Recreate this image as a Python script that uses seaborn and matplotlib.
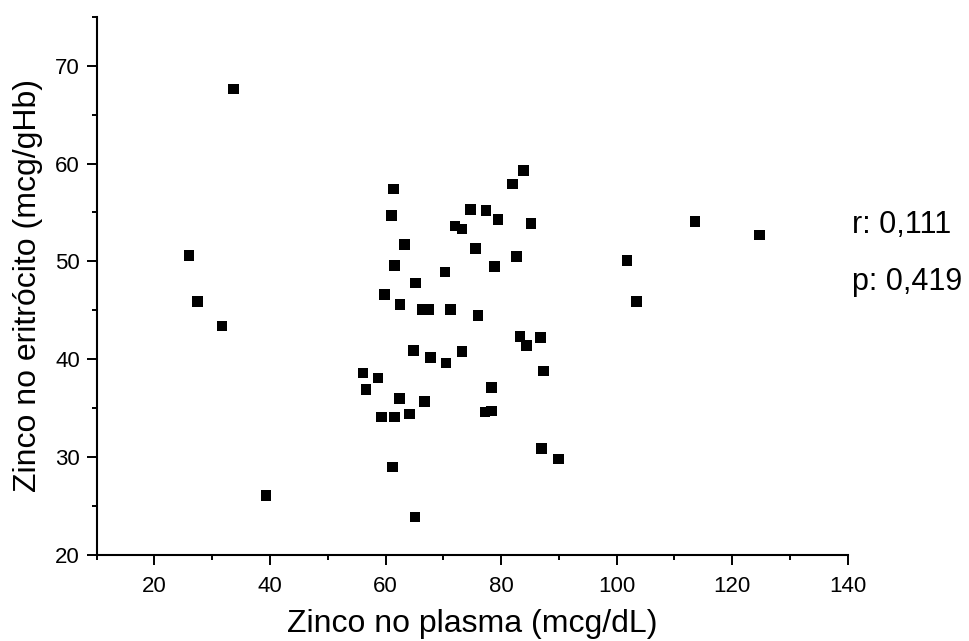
import matplotlib
matplotlib.use("Agg")
import matplotlib.pyplot as plt
import seaborn as sns
import pandas as pd
from matplotlib.ticker import MultipleLocator

zinco_plasma = [33.7, 26.0, 61.4, 61.0, 74.7, 77.4, 72.0, 73.2, 63.3, 75.6,
                61.5, 70.3, 65.2, 83.9, 82.0, 79.5, 85.2, 113.6, 124.7, 82.7,
                78.9, 101.8, 59.8, 62.5, 66.4, 67.5, 71.2, 76.0, 27.4, 31.7,
                64.8, 67.8, 70.5, 73.2, 56.1, 58.7, 56.6, 62.4, 66.7, 59.3,
                61.5, 64.1, 77.2, 78.3, 78.3, 61.2, 39.3, 65.1, 103.4, 83.3,
                84.4, 86.8, 87.3, 87.0, 89.9]
zinco_eritrocito = [67.6, 50.6, 57.4, 54.7, 55.3, 55.2, 53.6, 53.3, 51.7, 51.3,
                    49.6, 48.9, 47.8, 59.3, 57.9, 54.3, 53.9, 54.1, 52.7, 50.5,
                    49.5, 50.1, 46.6, 45.6, 45.1, 45.1, 45.1, 44.5, 45.9, 43.4,
                    40.9, 40.2, 39.6, 40.8, 38.6, 38.1, 36.9, 36.0, 35.7, 34.1,
                    34.1, 34.4, 34.6, 34.7, 37.1, 29.0, 26.1, 23.9, 45.9, 42.3,
                    41.4, 42.2, 38.8, 30.9, 29.8]
x_ticks = [20, 40, 60, 80, 100, 120, 140]
y_ticks = [20, 30, 40, 50, 60, 70]
stats_text = ["r: 0,111", "p: 0,419"]

sns.set_style("ticks")
plt.rcParams['font.family'] = ['Liberation Sans', 'DejaVu Sans']
plt.rcParams['text.color'] = 'black'
plt.rcParams['axes.labelcolor'] = 'black'

df = pd.DataFrame({"x": zinco_plasma, "y": zinco_eritrocito})

fig = plt.figure(figsize=(9.7, 6.41), dpi=100)
ax = fig.add_axes([96.7/970, 1-555/641, (847.7-96.7)/970, (555-16.7)/641])

sns.scatterplot(data=df, x="x", y="y", ax=ax, marker="s", s=58,
                color="black", edgecolor="none", linewidth=0)

ax.set_xlim(10, 140)
ax.set_ylim(20, 75)
ax.set_xticks(x_ticks)
ax.set_yticks(y_ticks)
ax.xaxis.set_minor_locator(MultipleLocator(10))
ax.yaxis.set_minor_locator(MultipleLocator(5))
ax.tick_params(which="major", length=7, width=1.4, labelsize=16, color="black",
               labelcolor="black", pad=5)
ax.tick_params(which="minor", length=3.5, width=1.4, color="black")
ax.tick_params(axis="x", pad=8)

for s in ["top", "right"]:
    ax.spines[s].set_visible(False)
for s in ["left", "bottom"]:
    ax.spines[s].set_linewidth(1.5)
    ax.spines[s].set_color("black")

ax.set_xlabel("Zinco no plasma (mcg/dL)", fontsize=23, labelpad=9)
ax.set_ylabel("Zinco no eritrócito (mcg/gHb)", fontsize=23, labelpad=9)

fig.text(852/970, 1-225/641, stats_text[0], fontsize=22, va="center", ha="left")
fig.text(852/970, 1-282/641, stats_text[1], fontsize=22, va="center", ha="left")

fig.savefig("out.png", dpi=100, facecolor="white")
